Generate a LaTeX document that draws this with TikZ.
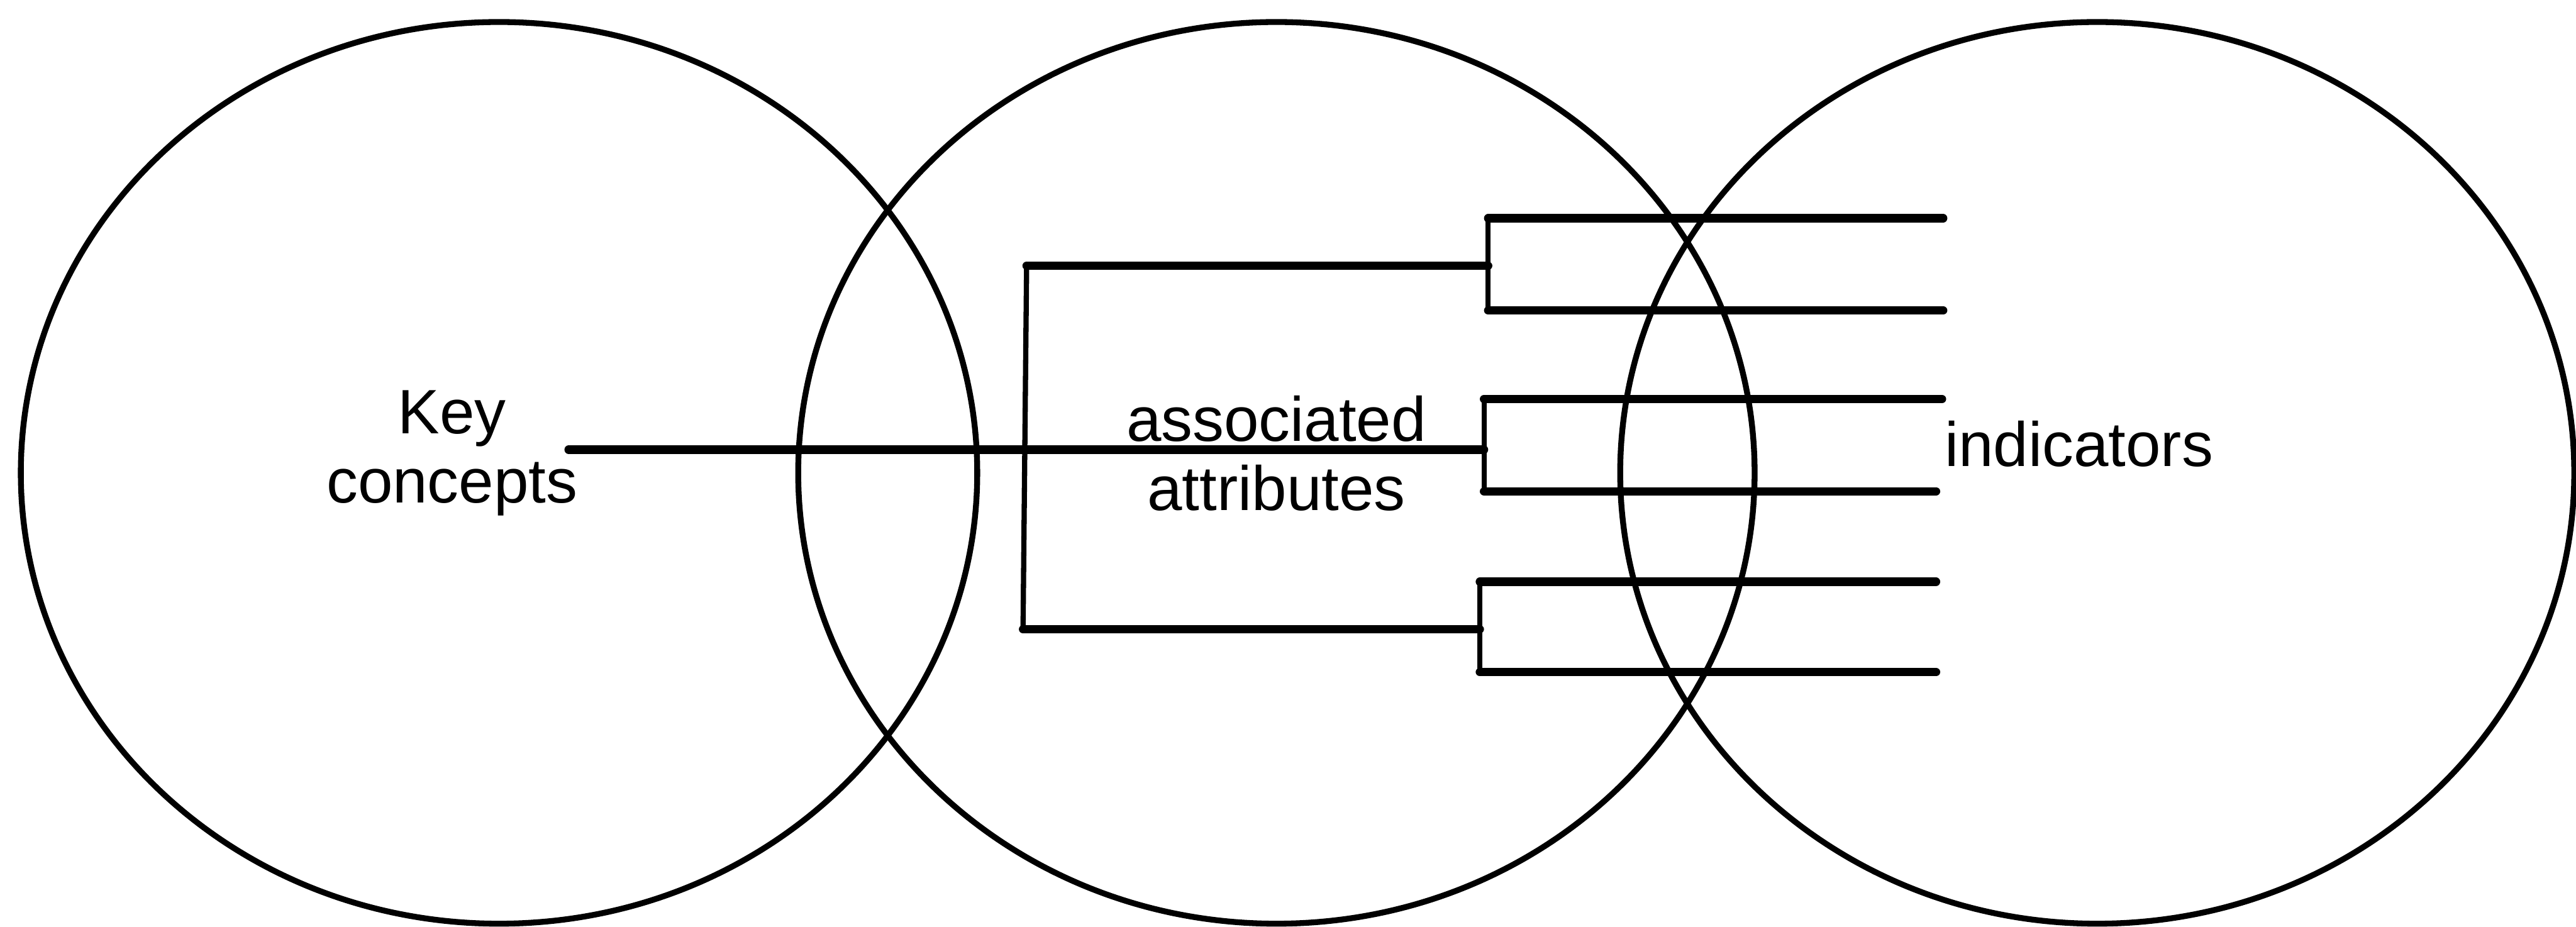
\documentclass[tikz,border=0pt]{standalone}
\usepackage{fontspec}
\setmainfont{Liberation Sans}
\begin{document}
\begin{tikzpicture}[font=\fontsize{30}{33}\selectfont,
  ring/.style={line width=2.8pt},
  bar/.style={line width=4pt,line cap=round},
  stem/.style={line width=2.5pt}]
\useasboundingbox (0,0) rectangle (43.31,15.58);
\draw[ring] (8.39,7.63) ellipse (8.04 and 7.58);
\draw[ring] (21.46,7.63) ellipse (8.04 and 7.58);
\draw[ring] (35.26,7.63) ellipse (8.02 and 7.58);
\node[align=center] (key) at (7.60,7.96) {Key\\concepts};
\node[align=center] (attr) at (21.46,7.96) {associated\\attributes};
\node[anchor=base west,inner sep=0pt] (ind) at (32.69,7.74) {indicators};
\coordinate (k0) at (9.56,8.02);
\coordinate (k1) at (24.95,8.02);
\coordinate (s1) at (17.26,11.11);
\coordinate (s2) at (17.20,5.00);
\coordinate (t0) at (25.02,11.11);
\coordinate (b0) at (24.88,5.00);
\coordinate (t1) at (25.02,11.91);
\coordinate (t2) at (25.02,10.36);
\coordinate (m1) at (24.95,8.87);
\coordinate (m2) at (24.95,7.32);
\coordinate (b1) at (24.88,5.80);
\coordinate (b2) at (24.88,4.28);
\coordinate (e1) at (32.67,11.91);
\coordinate (e2) at (32.67,10.36);
\coordinate (e3) at (32.65,8.87);
\coordinate (e4) at (32.55,7.32);
\coordinate (e5) at (32.55,5.80);
\coordinate (e6) at (32.55,4.28);
\draw[bar] (k0) -- (k1);
\draw[stem] (s1) -- (s2);
\draw[bar] (s1) -- (t0);
\draw[bar] (s2) -- (b0);
\draw[stem] (t1) -- (t2);
\draw[stem] (m1) -- (m2);
\draw[stem] (b1) -- (b2);
\draw[bar] (t1) -- (e1);
\draw[bar] (t2) -- (e2);
\draw[bar] (m1) -- (e3);
\draw[bar] (m2) -- (e4);
\draw[bar] (b1) -- (e5);
\draw[bar] (b2) -- (e6);
\end{tikzpicture}
\end{document}
